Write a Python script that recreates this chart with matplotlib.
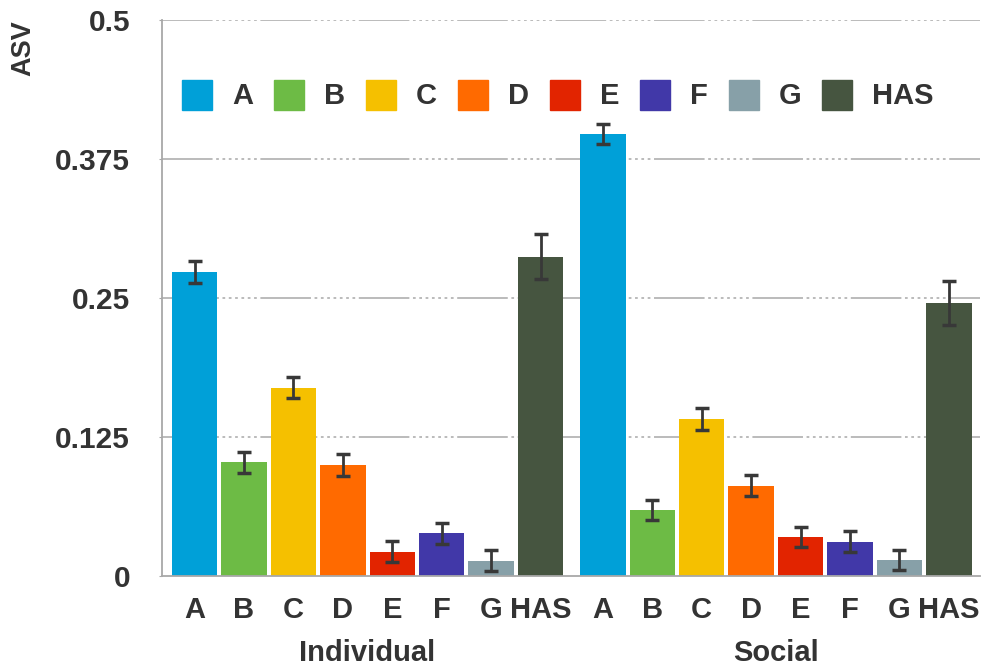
import numpy as np
import matplotlib
matplotlib.use('Agg')
import matplotlib.pyplot as plt
from matplotlib.patches import Patch

# data
categories = ['A', 'B', 'C', 'D', 'E', 'F', 'G', 'HAS']
groups = ['Individual', 'Social']
individual = [0.273, 0.102, 0.169, 0.0995, 0.0215, 0.038, 0.0134, 0.287]
individual_err = [0.010, 0.0095, 0.0095, 0.0099, 0.0092, 0.0093, 0.0093, 0.020]
social = [0.3975, 0.059, 0.141, 0.081, 0.0345, 0.0305, 0.0138, 0.2454]
social_err = [0.0092, 0.0093, 0.0097, 0.0095, 0.009, 0.0092, 0.0092, 0.0195]
yticks = [0, 0.125, 0.25, 0.375, 0.5]
ytick_labels = ['0', '0.125', '0.25', '0.375', '0.5']

colors = ['#00a0d8', '#6dbb45', '#f5c000', '#ff6a00', '#e22400',
          '#4138a8', '#87a0a8', '#465540']
txt = '#333333'

plt.rcParams['font.family'] = ['Liberation Sans', 'DejaVu Sans']
plt.rcParams['font.weight'] = 'bold'

fig = plt.figure(figsize=(9.82, 6.7), dpi=100)
ax = fig.add_axes([0.165, 0.141, 0.833, 0.829])

n = len(categories)
x_ind = np.arange(n)
x_soc = np.arange(n) + n + 0.26
width = 0.92

for xs, vals, errs in [(x_ind, individual, individual_err), (x_soc, social, social_err)]:
    ax.bar(xs, vals, width, color=colors, zorder=2)
    ax.errorbar(xs, vals, yerr=errs, fmt='none', ecolor='#383838',
                elinewidth=2, capsize=5, capthick=2.5, zorder=3)

ax.set_ylim(0, 0.5)
ax.set_xlim(-0.657, x_soc[-1] + 0.63)
ax.set_yticks(yticks)
ax.set_yticklabels(ytick_labels)
ax.set_xticks(np.concatenate([x_ind, x_soc]))
ax.set_xticklabels(categories + categories)
ax.tick_params(axis='x', length=0, pad=15, labelsize=21, labelcolor=txt)
ax.tick_params(axis='y', length=2, pad=21, labelsize=21.5, labelcolor=txt, color='#a8a8a8')

for y in yticks[1:]:
    ax.axhline(y, color='#b5b5b5', lw=1.3, zorder=1,
               dashes=[28, 2, 1.5, 2, 1.5, 2, 1.5, 2, 1.5, 2, 1.5, 2, 1.5, 2, 1.5, 2])

for s in ['top', 'right']:
    ax.spines[s].set_visible(False)
for s in ['left', 'bottom']:
    ax.spines[s].set_color('#a8a8a8')
    ax.spines[s].set_linewidth(1.3)

ax.set_ylabel('ASV', fontsize=19.5, color=txt, fontweight='bold')
ax.yaxis.set_label_coords(-0.154, 0.95)

for gx, g in zip([x_ind.mean(), x_soc.mean()], groups):
    ax.text(gx, -0.139, g, transform=ax.get_xaxis_transform(), ha='center',
            va='center', fontsize=21, color=txt, fontweight='bold')

handles = [Patch(color=c, label=l) for c, l in zip(colors, categories)]
leg = ax.legend(handles=handles, ncol=8, frameon=False, loc='center left',
                bbox_to_anchor=(0.0245, 0.865), borderaxespad=0, borderpad=0,
                fontsize=21, handlelength=1.03, handleheight=1.2,
                handletextpad=0.68, columnspacing=0.72)
for t in leg.get_texts():
    t.set_color(txt)

fig.savefig('out.png', dpi=100)
